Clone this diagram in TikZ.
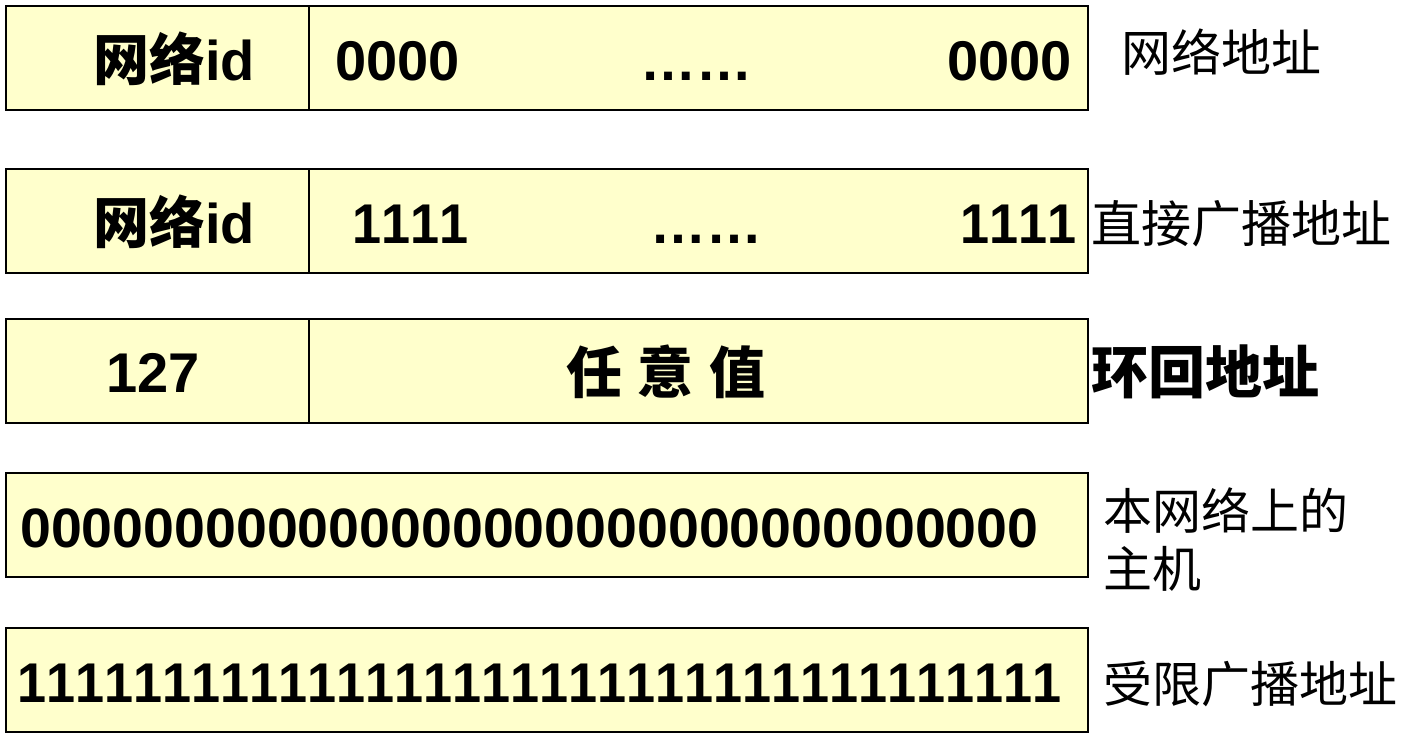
\documentclass[tikz,border=0pt]{standalone}
\usepackage{fontspec}
\setmainfont{Liberation Sans}[Kerning=Off]
\newfontfamily\cjk{Noto Sans CJK SC}
\definecolor{boxfill}{HTML}{FFFFCC}
\newcommand\sixones{111111}
\newcommand\elevenzeros{00000000000}
\newcommand\narrowones[1]{\scalebox{0.932}[1]{#1}}
\tikzset{
  field/.style={draw=black, line width=2pt, fill=boxfill},
  sep/.style={draw=black, line width=1.5pt},
  big/.style={inner sep=0pt, font=\fontsize{56}{60}\selectfont\bfseries},
  lbl/.style={inner sep=0pt, anchor=west, font=\fontsize{50}{58}\selectfont\cjk},
}
\begin{document}
\begin{tikzpicture}[x=1pt,y=-1pt]
\useasboundingbox (0,0) rectangle (1401,739);
% boxes
\draw[field] (6,6) rectangle (1088,110);
\draw[sep] (309,6) -- (309,110);
\draw[field] (6,169) rectangle (1088,273);
\draw[sep] (309,169) -- (309,273);
\draw[field] (6,319) rectangle (1088,423);
\draw[sep] (309,319) -- (309,423);
\draw[field] (6,473) rectangle (1088,577);
\draw[field] (6,628) rectangle (1088,732);
% row 1
\node[big, anchor=base west] (n1) at (93,80) {{\cjk\bfseries 网络}id};
\node[big, anchor=base west] (a1) at (335,80) {0000};
\node[big, anchor=base west] (d1) at (640,80) {……};
\node[big, anchor=base east] (z1) at (1072,80) {0000};
% row 2
\node[big, anchor=base west] (n2) at (93,243) {{\cjk\bfseries 网络}id};
\node[big, anchor=base west] (a2) at (352,243) {\narrowones{1111}};
\node[big, anchor=base west] (d2) at (650,243) {……};
\node[big, anchor=base east] (z2) at (1077,243) {\narrowones{1111}};
% row 3
\node[big, anchor=base west] (n3) at (106,392) {127};
\node[big, font=\fontsize{56}{60}\selectfont\cjk\bfseries] (v3) at (666,372) {任\hspace{16pt}意\hspace{16pt}值};
% row 4
\node[big, anchor=base west, font=\fontsize{55.5}{60}\selectfont\bfseries] (r4) at (20,547) {\elevenzeros\elevenzeros\elevenzeros};
% row 5
\node[big, anchor=base west] (r5) at (17,702) {\narrowones{\sixones\sixones\sixones\sixones\sixones\sixones}};
% labels
\node[lbl] (l1) at (1121,52) {网络地址};
\node[lbl] (l2) at (1091,224) {直接广播地址};
\node[lbl, font=\fontsize{57}{60}\selectfont\cjk\bfseries] (l3) at (1091,372) {环回地址};
\node[lbl, font=\fontsize{49}{58}\selectfont\cjk] (l4a) at (1103,511) {本网络上的};
\node[lbl, font=\fontsize{49}{58}\selectfont\cjk] (l4b) at (1103,569) {主机};
\node[lbl, font=\fontsize{49}{58}\selectfont\cjk] (l5) at (1103,684) {受限广播地址};
\end{tikzpicture}
\end{document}
